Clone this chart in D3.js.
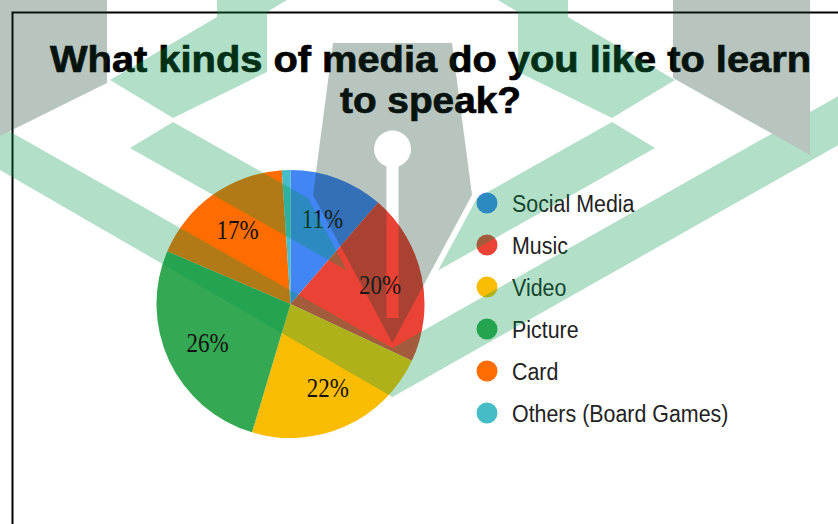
<!DOCTYPE html>
<html><head><meta charset="utf-8">
<script src="https://cdn.jsdelivr.net/npm/d3@7"></script>
<style>html,body{margin:0;padding:0;background:#fff;overflow:hidden}</style>
</head><body>
<svg id="chart" width="838" height="524"></svg>
<script>
// Survey answers: share of respondents per media type (percent)
const categories = ["Social Media", "Music", "Video", "Picture", "Card", "Others (Board Games)"];
const shares = [11, 20, 22, 26, 17, 1];
const sliceLabels = ["11%", "20%", "22%", "26%", "17%", ""];
const palette = ["#4285f4", "#ea4335", "#fbbc04", "#34a853", "#ff6d01", "#46bdc6"];
const titleLines = ["What kinds of media do you like to learn", "to speak?"];

const W = 838, H = 524;
const svg = d3.select("#chart");
svg.append("rect").attr("width", W).attr("height", H).attr("fill", "#fff");

// outer frame
svg.append("rect").attr("x", 12.5).attr("y", 12.5).attr("width", W).attr("height", H)
  .attr("fill", "none").attr("stroke", "#000").attr("stroke-width", 2);

// title
const title = svg.append("g")
  .attr("font-family", "'Liberation Sans', Arial, sans-serif")
  .attr("font-weight", "bold").attr("font-size", 36).attr("fill", "#000")
  .attr("stroke", "#000").attr("stroke-width", 0.7);
title.append("text").attr("x", 50).attr("y", 72)
  .attr("textLength", 761).attr("lengthAdjust", "spacingAndGlyphs").text(titleLines[0]);
title.append("text").attr("x", 340).attr("y", 113)
  .attr("textLength", 181).attr("lengthAdjust", "spacingAndGlyphs").text(titleLines[1]);

// pie
const cx = 290.5, cy = 304, radius = 134;
const pie = d3.pie().sort(null).value(d => d);
const arcs = pie(shares);
const arc = d3.arc().innerRadius(0).outerRadius(radius);
const labelArc = d3.arc().innerRadius(radius * 0.683).outerRadius(radius * 0.683);
const pg = svg.append("g").attr("transform", `translate(${cx},${cy})`);
pg.selectAll("path.slice").data(arcs).join("path").attr("class", "slice")
  .attr("d", arc).attr("fill", (d, i) => palette[i]);
pg.selectAll("text.val").data(arcs).join("text").attr("class", "val")
  .attr("transform", d => { const [x, y] = labelArc.centroid(d); return `translate(${x},${y}) scale(1,1.17)`; })
  .attr("y", 8)
  .attr("text-anchor", "middle")
  .attr("font-family", "'Liberation Serif', 'Times New Roman', serif")
  .attr("font-size", 23).attr("fill", "#111")
  .text((d, i) => sliceLabels[i]);

// legend
const ly = d3.scalePoint().domain(categories).range([203, 413]);
const lg = svg.append("g");
const item = lg.selectAll("g").data(categories).join("g")
  .attr("transform", d => `translate(0,${ly(d)})`);
item.append("circle").attr("cx", 487).attr("cy", 0).attr("r", 10.5)
  .attr("fill", (d, i) => palette[i]);
item.append("text").attr("transform", "translate(512,9) scale(1,1.1)")
  .attr("font-family", "'Liberation Sans', Arial, sans-serif")
  .attr("font-size", 21.4).attr("fill", "#222").text(d => d);

// translucent pen-and-chevron emblem laid over the whole card
const axis = 392.5;
const mirror = pts => pts.map(([x, y]) => [2 * axis - x, y]);
const chevronTop = [[217,0],[287,0],[267,12],[267,72],[173,118],[110,80],[217,17]];
const chevronMid = [[130,148],[173,122],[308,198],[347,270.5]];
const vBand = [[0,126],[axis,348],[838,96.3],[838,145.3],[axis,397],[0,170]];
const grayLeft = [[0,0],[107,0],[107,83],[0,136]];
const grayRight = [[673,0],[810,0],[810,155],[673,78]];
const nib = [[333,43],[452,43],[472,195],[axis,343],[313,195]];

const defs = svg.append("defs");
const mask = defs.append("mask").attr("id", "nibHoles");
mask.append("rect").attr("width", W).attr("height", H).attr("fill", "#fff");
mask.append("circle").attr("cx", axis).attr("cy", 149).attr("r", 18.5).attr("fill", "#000");
mask.append("rect").attr("x", axis - 6).attr("y", 149).attr("width", 12).attr("height", 169).attr("fill", "#000");

const line = d3.line();
const emblem = svg.append("g").attr("opacity", 0.3);
const green = "#00984b", gray = "#164130";
[vBand, chevronTop, mirror(chevronTop), chevronMid, mirror(chevronMid)].forEach(p =>
  emblem.append("path").attr("d", line(p) + "Z").attr("fill", green));
[grayLeft, grayRight].forEach(p =>
  emblem.append("path").attr("d", line(p) + "Z").attr("fill", gray));
emblem.append("path").attr("d", line(nib) + "Z").attr("fill", gray).attr("mask", "url(#nibHoles)");
</script>
</body></html>
